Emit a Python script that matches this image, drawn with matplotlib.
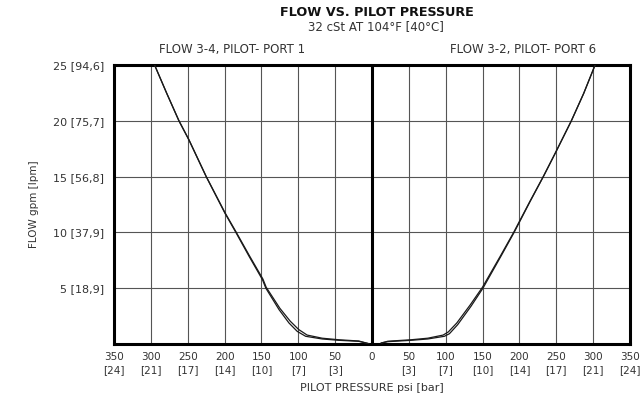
import matplotlib
matplotlib.use("Agg")
import matplotlib.pyplot as plt

# ---- data ----
# left panel: FLOW 3-4, PILOT- PORT 1 (pressure psi, flow gpm)
left_p_a = [4.5, 18, 45, 67.6, 90, 101.4, 112.6, 126, 144, 148.6, 166.7, 184.7, 199.5, 225, 248.5, 262, 278.5, 295]
left_q_a = [0.03, 0.24, 0.33, 0.45, 0.69, 1.13, 1.88, 3.07, 5.0, 5.76, 7.85, 10.0, 11.72, 15.0, 18.3, 20.0, 22.46, 25.0]
left_p_b = [4.5, 18, 45, 67.6, 88, 99.5, 111, 125, 143.5, 148, 166.2, 184.3, 199.2, 224.8, 248.3, 261.8, 278.4, 294.9]
left_q_b = [0.03, 0.27, 0.38, 0.52, 0.8, 1.3, 2.05, 3.2, 5.08, 5.82, 7.9, 10.03, 11.74, 15.0, 18.3, 20.0, 22.46, 25.0]

# right panel: FLOW 3-2, PILOT- PORT 6
right_p_a = [12.6, 21.6, 53, 75.7, 98.2, 105, 116.2, 134.2, 150.5, 174.8, 192.8, 214.5, 232.5, 248.5, 270.5, 287.2, 302.7]
right_q_a = [0.09, 0.21, 0.33, 0.45, 0.69, 0.92, 1.73, 3.37, 5.0, 7.85, 10.0, 12.77, 15.0, 17.08, 20.0, 22.45, 25.0]
right_p_b = [12.6, 21.6, 53, 75.7, 96.5, 103.5, 115, 133.2, 149.8, 174.3, 192.4, 214.2, 232.3, 248.4, 270.4, 287.1, 302.6]
right_q_b = [0.09, 0.25, 0.38, 0.52, 0.8, 1.08, 1.88, 3.5, 5.08, 7.9, 10.03, 12.78, 15.0, 17.08, 20.0, 22.45, 25.0]

x_ticks = [-350, -300, -250, -200, -150, -100, -50, 0, 50, 100, 150, 200, 250, 300, 350]
x_labels = ["350\n[24]", "300\n[21]", "250\n[17]", "200\n[14]", "150\n[10]", "100\n[7]", "50\n[3]",
            "0\n ", "50\n[3]", "100\n[7]", "150\n[10]", "200\n[14]", "250\n[17]", "300\n[21]", "350\n[24]"]
y_ticks = [5, 10, 15, 20, 25]
y_labels = ["5 [18,9]", "10 [37,9]", "15 [56,8]", "20 [75,7]", "25 [94,6]"]

title = "FLOW VS. PILOT PRESSURE"
subtitle = "32 cSt AT 104°F [40°C]"
left_title = "FLOW 3-4, PILOT- PORT 1"
right_title = "FLOW 3-2, PILOT- PORT 6"
xlabel = "PILOT PRESSURE psi [bar]"
ylabel = "FLOW gpm [lpm]"

plt.rcParams["font.family"] = ["DejaVu Sans"]
tc = "#333333"

fig = plt.figure(figsize=(6.43, 4.01), dpi=100)
ax = fig.add_axes([114 / 643, 1 - 344 / 401, (630 - 114) / 643, (344 - 65) / 401])

ax.set_xlim(-350, 350)
ax.set_ylim(0, 25)

for p, q in [(left_p_a, left_q_a), (left_p_b, left_q_b)]:
    ax.plot([-v for v in p], q, color="#1a1a1a", lw=0.9, zorder=3)
for p, q in [(right_p_a, right_q_a), (right_p_b, right_q_b)]:
    ax.plot(p, q, color="#1a1a1a", lw=0.9, zorder=3)

ax.set_xticks(x_ticks)
ax.set_xticklabels(x_labels, fontsize=7.5, color=tc, linespacing=1.35)
ax.set_yticks(y_ticks)
ax.set_yticklabels(y_labels, fontsize=8, color=tc)
ax.tick_params(length=0, pad=6)
ax.tick_params(axis="y", pad=7)
ax.grid(True, color="#555555", lw=0.8)
ax.set_axisbelow(True)
for s in ax.spines.values():
    s.set_linewidth(2.2)
    s.set_color("black")
ax.axvline(0, color="black", lw=2.2, zorder=4)

ax.set_xlabel(xlabel, fontsize=8, color=tc, labelpad=6)
ax.set_ylabel(ylabel, fontsize=7.5, color=tc, labelpad=10)

fig.text(377 / 643, 1 - 13 / 401, title, ha="center", va="center", fontsize=9.2,
         fontweight="bold", color="#111111")
fig.text(376 / 643, 1 - 27 / 401, subtitle, ha="center", va="center", fontsize=8.5, color=tc)
fig.text(232 / 643, 1 - 50 / 401, left_title, ha="center", va="center", fontsize=8.5, color=tc)
fig.text(523 / 643, 1 - 50 / 401, right_title, ha="center", va="center", fontsize=8.5, color=tc)

fig.savefig("out.png", dpi=100)
